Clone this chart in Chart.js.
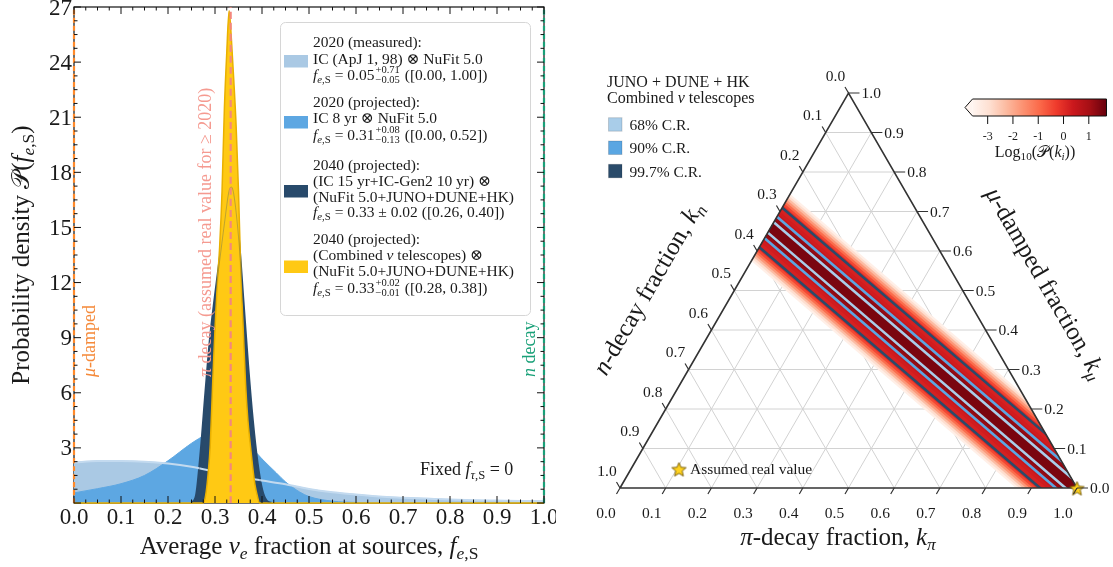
<!DOCTYPE html>
<html>
<head>
<meta charset="utf-8">
<title>Source flavor composition</title>
<script src="https://cdn.jsdelivr.net/npm/chart.js@4.4.1/dist/chart.umd.min.js"></script>
<style>
  html, body { margin: 0; padding: 0; background: #fff; }
  #wrap { position: relative; width: 1113px; height: 567px; overflow: hidden; }
  #wrap canvas { position: absolute; top: 0; }
</style>
</head>
<body>
<div id="wrap">
  <canvas id="fracChart" width="556" height="567" style="left:0"></canvas>
  <canvas id="heatChart" width="558" height="567" style="left:555px"></canvas>
  <canvas id="triChart" width="558" height="567" style="left:555px"></canvas>
</div>
<script>
const SERIF = '"Liberation Serif", "DejaVu Serif", serif';
const INK = '#1a1a1a';

// ---- left panel: posterior of the average nu_e fraction at the sources ----
const measuredFrac = [0, 0.05, 0.1, 0.15, 0.2, 0.25, 0.3, 0.35, 0.4, 0.45, 0.5, 0.55, 0.6, 0.65, 0.7, 0.75, 0.8, 0.85, 0.9, 0.95, 1.0];
const measuredDens = [2.2, 2.28, 2.28, 2.25, 2.15, 1.97, 1.7, 1.43, 1.22, 1.02, 0.76, 0.58, 0.46, 0.35, 0.29, 0.24, 0.19, 0.15, 0.13, 0.11, 0.1];

const projectedFrac = [0, 0.05, 0.1, 0.15, 0.2, 0.25, 0.28, 0.3, 0.32, 0.35, 0.38, 0.4, 0.43, 0.45, 0.48, 0.5, 0.55, 0.6, 0.65, 1.0];
const projectedDens = [0.55, 0.78, 1.05, 1.5, 2.3, 3.25, 3.7, 3.85, 3.85, 3.55, 2.95, 2.4, 1.65, 1.15, 0.6, 0.35, 0.1, 0.03, 0, 0];

const gen2Frac = [0.25, 0.26, 0.27, 0.28, 0.29, 0.30, 0.31, 0.32, 0.33, 0.335, 0.34, 0.35, 0.36, 0.37, 0.38, 0.39, 0.40, 0.41, 0.42];
const gen2Dens = [0, 0.4, 2.8, 6.0, 9.0, 11.2, 13.2, 15.2, 17.0, 17.2, 16.8, 14.5, 11.0, 7.5, 4.5, 2.2, 0.7, 0.1, 0];

const combinedFrac = [0, 0.275, 0.28, 0.285, 0.29, 0.295, 0.30, 0.305, 0.31, 0.315, 0.32, 0.325, 0.33, 0.335, 0.34, 0.345, 0.35, 0.355, 0.36, 0.365, 0.37, 0.375, 0.38, 0.385, 0.39, 0.395, 1.0];
const combinedDens = [0, 0, 0.4, 1.5, 3.2, 6.5, 9.5, 12.0, 14.0, 17.0, 21.5, 24.5, 26.8, 25.2, 23.0, 20.5, 17.0, 12.5, 9.5, 6.5, 4.5, 3.2, 2.0, 1.0, 0.4, 0, 0];

// benchmark source compositions: mu-damped, pi decay, n decay
const benchmarkFrac = [0, 1 / 3, 1];
const fracTicks = [0, 0.1, 0.2, 0.3, 0.4, 0.5, 0.6, 0.7, 0.8, 0.9, 1.0];
const densTicks = [3, 6, 9, 12, 15, 18, 21, 24, 27];

// ---- right panel: ternary posterior (JUNO + DUNE + HK, combined telescopes) ----
const bandEndsKpi = [-0.1, 1.1];
const bandEndsKmu = [0.726, -0.070];
const heatHalfWidth = [0.085, 0.08, 0.075, 0.07, 0.065, 0.06, 0.055, 0.05, 0.04, 0.033, 0.028, 0.024, 0.018, 0.01];
const heatLogP      = [-3.4, -2.9, -2.3, -1.7, -1.0, -0.45, 0.0, 0.2, 0.3, 0.45, 0.85, 1.2, 1.4, 1.5];
const crLabels = ['68% C.R.', '90% C.R.', '99.7% C.R.'];
const crHalfWidth = [0.013, 0.027, 0.05];
const ternTicks = [0, 0.1, 0.2, 0.3, 0.4, 0.5, 0.6, 0.7, 0.8, 0.9, 1.0];
const gridLevels = [0.1, 0.2, 0.3, 0.4, 0.5, 0.6, 0.7, 0.8, 0.9];
const realKpi = [1.0];
const realKmu = [0.0];
const cbarTicks = [-3, -2, -1, 0, 1];
const cbarRange = [-3.6, 1.7];

const C_MEAS = '#aac9e4', C_PROJ = '#5da7e2', C_GEN2 = '#284a6b', C_COMB = '#ffc914';
const C_CR = ['#a9cde9', '#5aa6e2', '#2a4b6a'];

// ---------- rich text (italic, sub/superscripts) ----------
const R = t => ({ t });
const I = t => ({ t, it: true });
const S = t => ({ t, sub: true });
const SI = t => ({ t, sub: true, it: true });
const ST = (hi, lo) => ({ hi, lo });

function setFont(ctx, size, it) { ctx.font = (it ? 'italic ' : '') + size + 'px ' + SERIF; }
function partWidth(ctx, p, size) {
  if (p.hi !== undefined) {
    setFont(ctx, size * 0.68, false);
    return Math.max(ctx.measureText(p.hi).width, ctx.measureText(p.lo).width) + 2;
  }
  setFont(ctx, p.sub ? size * 0.7 : size, p.it);
  return ctx.measureText(p.t).width;
}
function drawRich(ctx, parts, x, y, size, color, align) {
  const w = parts.reduce((s, p) => s + partWidth(ctx, p, size), 0);
  let cx = align === 'center' ? x - w / 2 : align === 'right' ? x - w : x;
  ctx.fillStyle = color;
  ctx.textAlign = 'left';
  ctx.textBaseline = 'alphabetic';
  for (const p of parts) {
    const pw = partWidth(ctx, p, size);
    if (p.hi !== undefined) {
      setFont(ctx, size * 0.68, false);
      ctx.fillText(p.hi, cx + 1, y - size * 0.43);
      ctx.fillText(p.lo, cx + 1, y + size * 0.22);
    } else {
      setFont(ctx, p.sub ? size * 0.7 : size, p.it);
      ctx.fillText(p.t, cx, y + (p.sub ? size * 0.2 : 0));
    }
    cx += pw;
  }
}
function drawTurned(ctx, parts, x, y, angle, size, color, align) {
  ctx.save();
  ctx.translate(x, y);
  ctx.rotate(angle);
  drawRich(ctx, parts, 0, 0, size, color, align);
  ctx.restore();
}

const fES = [I('f'), SI('e'), S(',S')];
const legendRows = [
  { color: C_MEAS, patchY: 55, base: [47, 63.5, 80], lines: [
    [R('2020 (measured):')],
    [R('IC (ApJ 1, 98) ⊗ NuFit 5.0')],
    [...fES, R(' = 0.05'), ST('+0.71', '−0.05'), R(' ([0.00, 1.00])')]] },
  { color: C_PROJ, patchY: 116, base: [106.5, 123, 140], lines: [
    [R('2020 (projected):')],
    [R('IC 8 yr ⊗ NuFit 5.0')],
    [...fES, R(' = 0.31'), ST('+0.08', '−0.13'), R(' ([0.00, 0.52])')]] },
  { color: C_GEN2, patchY: 185, base: [169.5, 185.5, 201.5, 217], lines: [
    [R('2040 (projected):')],
    [R('(IC 15 yr+IC-Gen2 10 yr) ⊗')],
    [R('(NuFit 5.0+JUNO+DUNE+HK)')],
    [...fES, R(' = 0.33 ± 0.02 ([0.26, 0.40])')]] },
  { color: C_COMB, patchY: 260.5, base: [243.5, 259.5, 276, 292.5], lines: [
    [R('2040 (projected):')],
    [R('(Combined '), I('ν'), R(' telescopes) ⊗')],
    [R('(NuFit 5.0+JUNO+DUNE+HK)')],
    [...fES, R(' = 0.33'), ST('+0.02', '−0.01'), R(' ([0.28, 0.38])')]] }
];

const pts = (xs, ys) => xs.map((x, i) => ({ x, y: ys[i] }));
const vline = (x, color, dash) => ({
  data: [{ x, y: 0 }, { x, y: 27 }], borderColor: color, borderWidth: 2.2,
  borderDash: dash, fill: false, clip: false
});

const fracFrame = {
  id: 'fracFrame',
  beforeDatasetsDraw(chart) {
    const { ctx, chartArea: a } = chart;
    ctx.save();
    ctx.strokeStyle = '#111';
    ctx.lineWidth = 1.2;
    ctx.strokeRect(a.left, a.top, a.right - a.left, a.bottom - a.top);
    ctx.restore();
  },
  afterDatasetsDraw(chart) {
    const { ctx, chartArea: a, scales: { x, y } } = chart;
    ctx.save();
    ctx.strokeStyle = '#111';
    ctx.lineWidth = 1;
    ctx.beginPath();
    for (let i = 0; i <= 40; i++) {
      const p = x.getPixelForValue(i / 40), L = i % 4 === 0 ? 7 : 3.5;
      ctx.moveTo(p, a.bottom); ctx.lineTo(p, a.bottom - L);
      ctx.moveTo(p, a.top); ctx.lineTo(p, a.top + L);
    }
    for (let i = 0; i <= 36; i++) {
      const p = y.getPixelForValue(i * 0.75), L = i % 4 === 0 ? 7 : 3.5;
      ctx.moveTo(a.left, p); ctx.lineTo(a.left + L, p);
      ctx.moveTo(a.right, p); ctx.lineTo(a.right - L, p);
    }
    ctx.stroke();

    ctx.fillStyle = INK;
    ctx.font = '23px ' + SERIF;
    ctx.textBaseline = 'alphabetic';
    ctx.textAlign = 'center';
    fracTicks.forEach(v => ctx.fillText(v.toFixed(1), x.getPixelForValue(v), a.bottom + 20.5));
    ctx.textAlign = 'right';
    densTicks.forEach(v => ctx.fillText(String(v), a.left - 2, y.getPixelForValue(v) + 7.5));

    // axis titles
    drawRich(ctx, [R('Average '), I('ν'), SI('e'), R(' fraction at sources, '), ...fES],
      (a.left + a.right) / 2, 554, 25, INK, 'center');
    drawTurned(ctx, [R('Probability density '), R('𝒫'), R('('), ...fES, R(')')],
      29, (a.top + a.bottom) / 2, -Math.PI / 2, 25, INK, 'center');

    // benchmark labels
    drawTurned(ctx, [I('μ'), R('-damped')], x.getPixelForValue(benchmarkFrac[0]) + 21, 377, -Math.PI / 2, 18, '#f58a3a', 'left');
    drawTurned(ctx, [I('π'), R(' decay (assumed real value for ≥ 2020)')], x.getPixelForValue(benchmarkFrac[1]) - 20, 377, -Math.PI / 2, 18, '#f59a90', 'left');
    drawTurned(ctx, [I('n'), R(' decay')], x.getPixelForValue(benchmarkFrac[2]) - 9, 377, -Math.PI / 2, 18, '#19a078', 'left');

    drawRich(ctx, [R('Fixed '), I('f'), SI('τ'), S(',S'), R(' = 0')], 420, 475, 18, INK, 'left');

    // legend
    ctx.beginPath();
    ctx.roundRect(280.5, 22.5, 250, 293, 5);
    ctx.fillStyle = 'rgba(255,255,255,0.85)';
    ctx.fill();
    ctx.strokeStyle = '#d6d6d6';
    ctx.lineWidth = 1;
    ctx.stroke();
    legendRows.forEach(row => {
      ctx.fillStyle = row.color;
      ctx.fillRect(284, row.patchY, 24, 12.5);
      row.lines.forEach((ln, k) => drawRich(ctx, ln, 313, row.base[k], 15.5, INK, 'left'));
    });
    ctx.restore();
  }
};

new Chart(document.getElementById('fracChart'), {
  type: 'line',
  data: {
    datasets: [
      vline(benchmarkFrac[0], '#ff8a2b', [5, 3]),
      vline(benchmarkFrac[1], '#f4877d', [7, 4]),
      vline(benchmarkFrac[2], '#19a078', [5, 3]),
      { data: pts(gen2Frac, gen2Dens), borderColor: 'rgba(40,74,107,0.3)', borderWidth: 1, fill: false },
      { data: pts(combinedFrac, combinedDens), borderColor: '#e9b000', borderWidth: 1.5, backgroundColor: C_COMB, fill: 'origin', clip: false },
      { data: pts(measuredFrac, measuredDens), borderColor: '#c3daef', borderWidth: 2, fill: false },
      { data: pts(gen2Frac, gen2Dens), borderColor: C_GEN2, borderWidth: 2.5, backgroundColor: C_GEN2, fill: 'origin' },
      { data: pts(projectedFrac, projectedDens), borderColor: C_PROJ, borderWidth: 1, backgroundColor: C_PROJ, fill: 'origin' },
      { data: pts(measuredFrac, measuredDens), borderColor: C_MEAS, borderWidth: 1, backgroundColor: C_MEAS, fill: 'origin' }
    ]
  },
  options: {
    responsive: false, animation: false, events: [], devicePixelRatio: 1,
    layout: { padding: { left: 74, right: 12, top: 7, bottom: 64 } },
    scales: {
      x: { type: 'linear', min: 0, max: 1, display: false },
      y: { type: 'linear', min: 0, max: 27, display: false }
    },
    plugins: { legend: { display: false }, tooltip: { enabled: false } },
    elements: { point: { radius: 0 }, line: { cubicInterpolationMode: 'monotone' } }
  },
  plugins: [fracFrame]
});

// ---------- ternary helpers ----------
const H = Math.sqrt(3) / 2;
const toXY = (kpi, kmu) => ({ x: kpi + kmu / 2, y: kmu * H });
const OX = 555;   // page offset of the right canvases

const REDS = ['#fff5f0', '#fee0d2', '#fcbba1', '#fc9272', '#fb6a4a', '#ef3b2c', '#cb181d', '#a50f15', '#67000d'];
const hex = c => [1, 3, 5].map(i => parseInt(c.slice(i, i + 2), 16));
function reds(v) {
  let t = (v - cbarRange[0]) / (cbarRange[1] - cbarRange[0]);
  t = Math.max(0, Math.min(1, t));
  const f = t * (REDS.length - 1);
  const i = Math.min(Math.floor(f), REDS.length - 2), u = f - i;
  const a = hex(REDS[i]), b = hex(REDS[i + 1]);
  return 'rgb(' + a.map((c, k) => Math.round(c + (b[k] - c) * u)).join(',') + ')';
}
const bandLine = d => [toXY(bandEndsKpi[0], bandEndsKmu[0] + d), toXY(bandEndsKpi[1], bandEndsKmu[1] + d)];

const commonOpts = {
  responsive: false, animation: false, events: [], devicePixelRatio: 1,
  layout: { padding: { left: 65, right: 36, top: 93, bottom: 79 } },
  scales: {
    x: { type: 'linear', min: 0, max: 1, display: false },
    y: { type: 'linear', min: 0, max: H, display: false }
  },
  plugins: { legend: { display: false }, tooltip: { enabled: false } },
  elements: { point: { radius: 0 } }
};

// heat band + contours + grid, all clipped to the triangle (first dataset is drawn on top)
const heatSets = [];
crHalfWidth.forEach((w, i) => {
  [w, -w].forEach(d => heatSets.push({ data: bandLine(d), borderColor: C_CR[i], borderWidth: 2.6, fill: false }));
});
for (let i = heatHalfWidth.length - 1; i >= 0; i--) {
  const w = heatHalfWidth[i];
  const up = bandLine(w), lo = bandLine(-w);
  heatSets.push({ data: [up[0], up[1], lo[1], lo[0], up[0]], fill: 'shape', backgroundColor: reds(heatLogP[i]), borderWidth: 0 });
}
gridLevels.forEach(c => {
  [[toXY(0, c), toXY(1 - c, c)], [toXY(c, 0), toXY(c, 1 - c)], [toXY(1 - c, 0), toXY(0, 1 - c)]]
    .forEach(seg => heatSets.push({ data: seg, borderColor: '#d2d2d2', borderWidth: 1, fill: false }));
});

const triangleClip = {
  id: 'triangleClip',
  beforeDatasetsDraw(chart) {
    const { ctx, scales: { x, y } } = chart;
    const v = [toXY(0, 0), toXY(1, 0), toXY(0, 1)];
    ctx.save();
    ctx.beginPath();
    v.forEach((p, k) => ctx[k ? 'lineTo' : 'moveTo'](x.getPixelForValue(p.x), y.getPixelForValue(p.y)));
    ctx.closePath();
    ctx.clip();
  },
  afterDatasetsDraw(chart) { chart.ctx.restore(); }
};

new Chart(document.getElementById('heatChart'), {
  type: 'line',
  data: { datasets: heatSets },
  options: commonOpts,
  plugins: [triangleClip]
});

// star marker
function makeStar(r) {
  const c = document.createElement('canvas');
  const s = Math.ceil(r * 2 + 4);
  c.width = c.height = s;
  const g = c.getContext('2d');
  g.translate(s / 2, s / 2 + 1);
  g.beginPath();
  for (let i = 0; i < 10; i++) {
    const ang = -Math.PI / 2 + i * Math.PI / 5, rr = i % 2 ? r * 0.45 : r;
    g.lineTo(rr * Math.cos(ang), rr * Math.sin(ang));
  }
  g.closePath();
  g.fillStyle = '#ffd21f';
  g.fill();
  g.strokeStyle = '#6e5400';
  g.lineWidth = 0.9;
  g.stroke();
  return c;
}
const STAR = makeStar(7.5);

const ternDecor = {
  id: 'ternDecor',
  afterDatasetsDraw(chart) {
    const { ctx, scales: { x, y } } = chart;
    const px = (kpi, kmu) => { const p = toXY(kpi, kmu); return [x.getPixelForValue(p.x), y.getPixelForValue(p.y)]; };
    ctx.save();
    ctx.strokeStyle = '#333';
    ctx.lineWidth = 1.2;
    ctx.fillStyle = INK;
    ctx.font = '15.5px ' + SERIF;
    ctx.textBaseline = 'alphabetic';
    ctx.beginPath();
    ternTicks.forEach(v => {
      let [bx, by] = px(v, 0);                  // k_pi, bottom
      ctx.moveTo(bx, by); ctx.lineTo(bx - 3.5, by + 6);
      [bx, by] = px(1 - v, v);                  // k_mu, right
      ctx.moveTo(bx, by); ctx.lineTo(bx + 11, by);
      [bx, by] = px(0, 1 - v);                  // k_n, left
      ctx.moveTo(bx, by); ctx.lineTo(bx - 3.5, by - 6);
    });
    ctx.stroke();
    ternTicks.forEach(v => {
      let [bx, by] = px(v, 0);
      ctx.textAlign = 'center';
      ctx.fillText(v.toFixed(1), bx - 14, by + 30);
      [bx, by] = px(1 - v, v);
      ctx.textAlign = 'left';
      ctx.fillText(v.toFixed(1), bx + 13, by + 5);
      [bx, by] = px(0, 1 - v);
      ctx.textAlign = 'center';
      ctx.fillText(v.toFixed(1), bx - 13, by - 12.5);
    });

    // axis titles
    drawRich(ctx, [I('π'), R('-decay fraction, '), I('k'), SI('π')], 838 - OX, 545, 25, INK, 'center');
    drawTurned(ctx, [I('μ'), R('-damped fraction, '), I('k'), SI('μ')], 1033 - OX + 6, 291 - 4, Math.PI / 3, 25, INK, 'center');
    drawTurned(ctx, [I('n'), R('-decay fraction, '), I('k'), SI('n')], 661 - OX - 6, 296 - 4, -Math.PI / 3, 25, INK, 'center');

    // confidence-region legend
    drawRich(ctx, [R('JUNO + DUNE + HK')], 607 - OX, 86.5, 16, INK, 'left');
    drawRich(ctx, [R('Combined '), I('ν'), R(' telescopes')], 607 - OX, 103.3, 16, INK, 'left');
    crLabels.forEach((lab, i) => {
      const top = 117.7 + i * 23.3;
      ctx.fillStyle = C_CR[i];
      ctx.fillRect(608.5 - OX, top, 13.5, 13.5);
      ctx.strokeStyle = 'rgba(0,0,0,0.15)';
      ctx.lineWidth = 1;
      ctx.strokeRect(608.5 - OX, top, 13.5, 13.5);
      drawRich(ctx, [R(lab)], 629.5 - OX, top + 12.3, 15.5, INK, 'left');
    });

    // colour bar
    const x0 = 972.5 - OX, x1 = 1106.5 - OX, yt = 99, yb = 116;
    const grad = ctx.createLinearGradient(x0, 0, x1, 0);
    REDS.forEach((c, k) => grad.addColorStop(k / (REDS.length - 1), c));
    ctx.fillStyle = grad;
    ctx.fillRect(x0, yt, x1 - x0, yb - yt);
    ctx.beginPath();
    ctx.moveTo(x0, yt); ctx.lineTo(x0 - 7.5, (yt + yb) / 2); ctx.lineTo(x0, yb); ctx.closePath();
    ctx.fillStyle = REDS[0];
    ctx.fill();
    ctx.beginPath();
    ctx.moveTo(x0, yt); ctx.lineTo(x1, yt); ctx.lineTo(x1, yb); ctx.lineTo(x0, yb);
    ctx.lineTo(x0 - 7.5, (yt + yb) / 2); ctx.closePath();
    ctx.strokeStyle = '#111';
    ctx.lineWidth = 1;
    ctx.stroke();
    const cpx = v => x0 + (v - cbarRange[0]) / (cbarRange[1] - cbarRange[0]) * (x1 - x0);
    ctx.beginPath();
    cbarTicks.forEach(v => { ctx.moveTo(cpx(v), yb); ctx.lineTo(cpx(v), yb + 8); });
    ctx.stroke();
    ctx.fillStyle = INK;
    ctx.font = '12px ' + SERIF;
    ctx.textAlign = 'center';
    cbarTicks.forEach(v => ctx.fillText(String(v), cpx(v), 139.5));
    drawRich(ctx, [R('Log'), S('10'), R('('), R('𝒫'), R('('), I('k'), SI('i'), R('))')], 1035 - OX, 157, 16, INK, 'center');

    // marker legend
    ctx.drawImage(STAR, 679 - OX - STAR.width / 2, 469 - STAR.height / 2);
    drawRich(ctx, [R('Assumed real value')], 690 - OX, 474, 15.5, INK, 'left');
    ctx.restore();
  }
};

new Chart(document.getElementById('triChart'), {
  type: 'line',
  data: {
    datasets: [
      { data: pts(realKpi, realKmu).map(p => toXY(p.x, p.y)), showLine: false, pointStyle: STAR, pointRadius: 8, clip: false },
      { data: [toXY(0, 0), toXY(1, 0), toXY(0, 1), toXY(0, 0)], borderColor: '#333', borderWidth: 1.6, fill: false, clip: false }
    ]
  },
  options: commonOpts,
  plugins: [ternDecor]
});
</script>
</body>
</html>
